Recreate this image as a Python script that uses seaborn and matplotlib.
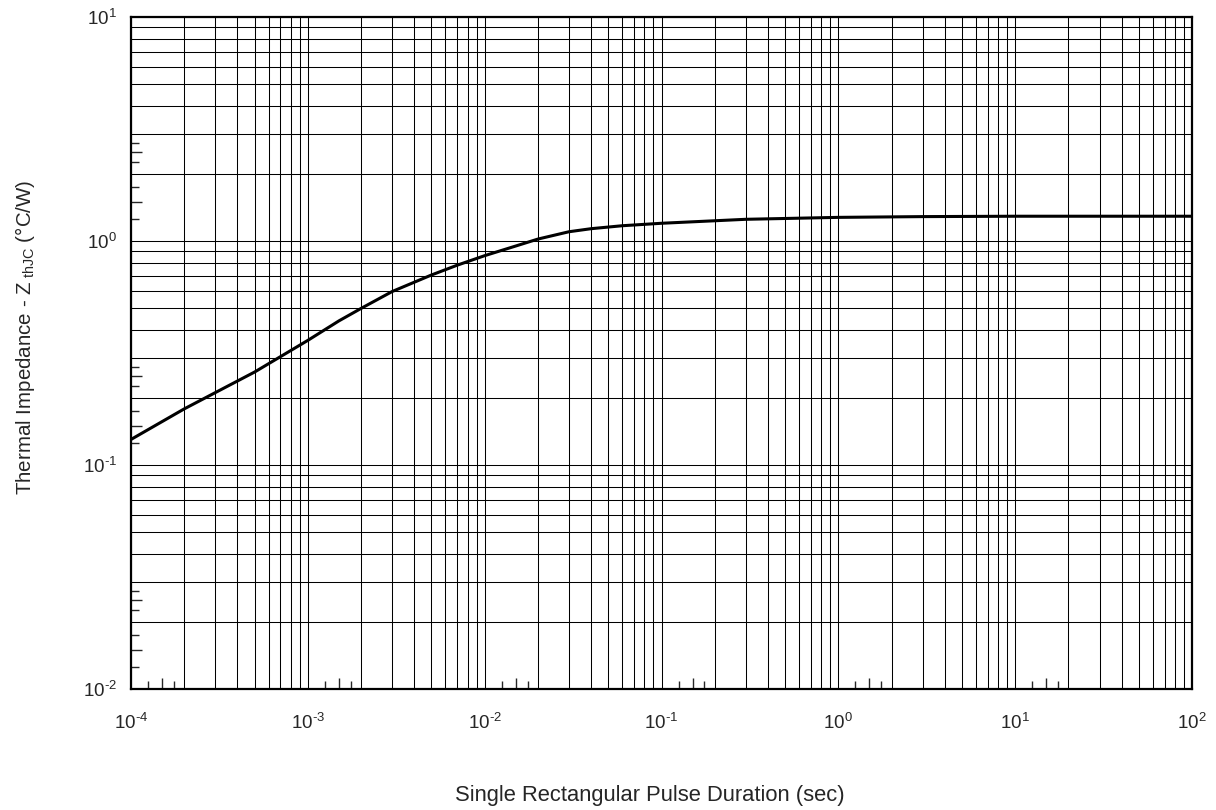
import numpy as np
import matplotlib
matplotlib.use("Agg")
import matplotlib.pyplot as plt
from matplotlib.ticker import LogLocator, NullLocator, FixedLocator, FuncFormatter
import seaborn as sns

# values
pulse_duration_s = [1e-4, 2e-4, 5e-4, 1e-3, 1.5e-3, 2e-3, 3e-3, 5e-3, 7e-3, 1e-2,
                    1.5e-2, 2e-2, 3e-2, 4e-2, 6e-2, 1e-1, 3e-1, 1.0, 3.0, 10.0, 100.0]
z_thjc = [0.13, 0.178, 0.26, 0.36, 0.44, 0.50, 0.595, 0.705, 0.78, 0.86,
          0.95, 1.02, 1.10, 1.135, 1.17, 1.20, 1.25, 1.275, 1.285, 1.29, 1.29]

x_major = [1e-4, 1e-3, 1e-2, 1e-1, 1e0, 1e1, 1e2]
y_major = [1e-2, 1e-1, 1e0, 1e1]

sns.set_style("white")
plt.rcParams.update({
    "font.family": ["Liberation Sans", "DejaVu Sans"],
    "mathtext.fontset": "custom",
    "mathtext.rm": "Liberation Sans",
    "mathtext.it": "Liberation Sans:italic",
    "axes.unicode_minus": False,
    "font.size": 13.5,
})


def pow10(v, pos):
    e = int(round(np.log10(v)))
    if e < 0:
        return r"$\mathdefault{10^{\text{-}%d}}$" % (-e)
    return r"$\mathdefault{10^{%d}}$" % e


fig = plt.figure(figsize=(12.16, 8.10), dpi=100)
ax = fig.add_axes([0.1077, 0.1494, 0.8726, 0.8296])

df = {"t": pulse_duration_s, "z": z_thjc}
sns.lineplot(x="t", y="z", data=df, ax=ax, color="black", linewidth=2.2)

ax.set_xscale("log")
ax.set_yscale("log")
ax.set_xlim(1e-4, 1e2)
ax.set_ylim(1e-2, 1e1)

for axis, majors in ((ax.xaxis, x_major), (ax.yaxis, y_major)):
    axis.set_major_locator(FixedLocator(majors))
    axis.set_minor_locator(LogLocator(base=10, subs=np.arange(2, 10), numticks=100))
    axis.set_major_formatter(FuncFormatter(pow10))

ax.grid(True, which="both", color="black", linewidth=0.75)
for s in ax.spines.values():
    s.set_color("black")
    s.set_linewidth(1.6)

ax.tick_params(which="both", direction="in", length=11, width=1.1, color="black",
               top=False, right=False)
ax.tick_params(axis="x", which="major", pad=17, labelsize=13.5)
ax.tick_params(axis="y", which="major", pad=10, labelsize=13.5)

# little extra ticks inside each decade, as on the datasheet
def small_ticks(decades, subs):
    return [d * s for d in decades[:-1] for s in subs]

for subs, ln in (([1.25, 1.75], 6), ([1.5], 8)):
    sx = ax.secondary_xaxis("bottom")
    sx.xaxis.set_major_locator(FixedLocator(small_ticks(x_major, subs)))
    sx.xaxis.set_minor_locator(NullLocator())
    sx.set_xticklabels([])
    sx.tick_params(direction="in", length=ln, width=1.0, labelbottom=False)
    sx.spines["bottom"].set_visible(False)

for subs, ln in (([1.25, 1.75, 2.25, 2.75], 6), ([1.5, 2.5], 8)):
    sy = ax.secondary_yaxis("left")
    sy.yaxis.set_major_locator(FixedLocator(small_ticks(y_major, subs)))
    sy.yaxis.set_minor_locator(NullLocator())
    sy.set_yticklabels([])
    sy.tick_params(direction="in", length=ln, width=1.0, labelleft=False)
    sy.spines["left"].set_visible(False)

ax.set_xlabel("Single Rectangular Pulse Duration (sec)", fontsize=15.8)
ax.set_ylabel(r"Thermal Impedance - Z$_{\mathdefault{\ thJC}}$ (°C/W)", fontsize=14.8)
ax.xaxis.set_label_coords(0.489, -0.143)
ax.yaxis.set_label_coords(-0.089, 0.524)
ax.xaxis.label.set_va("top")

fig.savefig("out.png", dpi=100)
